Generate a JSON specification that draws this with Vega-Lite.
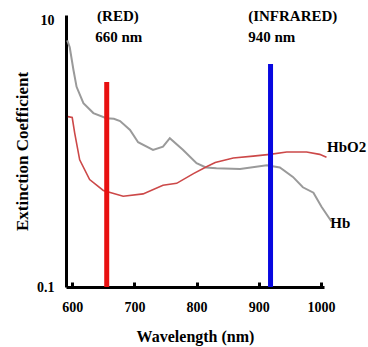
{
  "$schema": "https://vega.github.io/schema/vega-lite/v6.json",
  "autosize": "none",
  "width": 258,
  "height": 272,
  "padding": {"left": 66, "top": 15, "right": 44, "bottom": 60},
  "background": "white",
  "config": {
    "view": {"stroke": null},
    "font": "Liberation Serif",
    "axis": {"grid": false, "domainColor": "black", "domainWidth": 3, "labelFont": "Liberation Serif", "titleFont": "Liberation Serif", "labelColor": "black", "titleColor": "black", "labelFontWeight": "bold", "titleFontWeight": "bold", "labelFontSize": 14, "titleFontSize": 16}
  },
  "datasets": {
    "hb": [
      {"wl": 592, "v": 7.1}, {"wl": 596, "v": 6.3}, {"wl": 602, "v": 4.25}, {"wl": 607, "v": 3.18},
      {"wl": 618, "v": 2.4}, {"wl": 634, "v": 2.02}, {"wl": 655, "v": 1.85}, {"wl": 667, "v": 1.83},
      {"wl": 677, "v": 1.76}, {"wl": 693, "v": 1.51}, {"wl": 706, "v": 1.22}, {"wl": 730, "v": 1.07},
      {"wl": 746, "v": 1.13}, {"wl": 757, "v": 1.31}, {"wl": 778, "v": 1.07}, {"wl": 800, "v": 0.85},
      {"wl": 815, "v": 0.79}, {"wl": 832, "v": 0.78}, {"wl": 870, "v": 0.77}, {"wl": 913, "v": 0.82},
      {"wl": 934, "v": 0.79}, {"wl": 955, "v": 0.67}, {"wl": 971, "v": 0.56}, {"wl": 988, "v": 0.51},
      {"wl": 1001, "v": 0.4}, {"wl": 1017, "v": 0.31}
    ],
    "hbo2": [
      {"wl": 593, "v": 1.9}, {"wl": 600, "v": 1.87}, {"wl": 604, "v": 1.43}, {"wl": 612, "v": 0.9},
      {"wl": 628, "v": 0.64}, {"wl": 650, "v": 0.53}, {"wl": 682, "v": 0.48}, {"wl": 714, "v": 0.5},
      {"wl": 746, "v": 0.58}, {"wl": 768, "v": 0.6}, {"wl": 795, "v": 0.71}, {"wl": 816, "v": 0.8},
      {"wl": 830, "v": 0.86}, {"wl": 859, "v": 0.93}, {"wl": 891, "v": 0.96}, {"wl": 918, "v": 0.99},
      {"wl": 945, "v": 1.03}, {"wl": 977, "v": 1.03}, {"wl": 998, "v": 0.99}, {"wl": 1009, "v": 0.94}
    ],
    "bars": [
      {"wl": 655.5, "top": 3.46, "base": 0.1, "band": "red"},
      {"wl": 919, "top": 4.72, "base": 0.1, "band": "infrared"}
    ],
    "labels": [
      {"wl": 640, "v": 10.8, "text": "(RED)"},
      {"wl": 637, "v": 7.5, "text": "660 nm"},
      {"wl": 883, "v": 10.8, "text": "(INFRARED)"},
      {"wl": 883, "v": 7.5, "text": "940 nm"},
      {"wl": 1010, "v": 1.12, "text": "HbO2"},
      {"wl": 1015, "v": 0.3, "text": "Hb"}
    ]
  },
  "layer": [
    {
      "data": {"name": "hb"},
      "mark": {"type": "line", "color": "#9a9a9a", "strokeWidth": 2},
      "encoding": {
        "x": {"field": "wl", "type": "quantitative", "scale": {"domain": [590, 1005], "nice": false, "zero": false},
              "axis": {"values": [600, 700, 800, 900, 1000], "format": "d", "title": "Wavelength (nm)", "tickSize": -5, "tickWidth": 3, "tickColor": "black", "labelPadding": 18, "titlePadding": 14}},
        "y": {"field": "v", "type": "quantitative", "scale": {"type": "log", "domain": [0.1, 11], "nice": false},
              "axis": {"values": [0.1, 10], "title": "Extinction Coefficient", "titleFontSize": 17, "ticks": false, "labelPadding": 12, "titlePadding": 5, "labelExpr": "datum.value < 1 ? '0.1' : '10'"}}
      }
    },
    {
      "data": {"name": "hbo2"},
      "mark": {"type": "line", "color": "#cc4848", "strokeWidth": 1.6},
      "encoding": {
        "x": {"field": "wl", "type": "quantitative"},
        "y": {"field": "v", "type": "quantitative"}
      }
    },
    {
      "data": {"name": "bars"},
      "mark": {"type": "rule", "strokeWidth": 5},
      "encoding": {
        "x": {"field": "wl", "type": "quantitative"},
        "y": {"field": "top", "type": "quantitative"},
        "y2": {"field": "base"},
        "color": {"field": "band", "type": "nominal", "scale": {"domain": ["red", "infrared"], "range": ["#e81010", "#0808e0"]}, "legend": null}
      }
    },
    {
      "data": {"name": "labels"},
      "mark": {"type": "text", "align": "left", "baseline": "middle", "font": "Liberation Serif", "fontSize": 15, "fontWeight": "bold", "color": "black"},
      "encoding": {
        "x": {"field": "wl", "type": "quantitative"},
        "y": {"field": "v", "type": "quantitative"},
        "text": {"field": "text"}
      }
    }
  ]
}
